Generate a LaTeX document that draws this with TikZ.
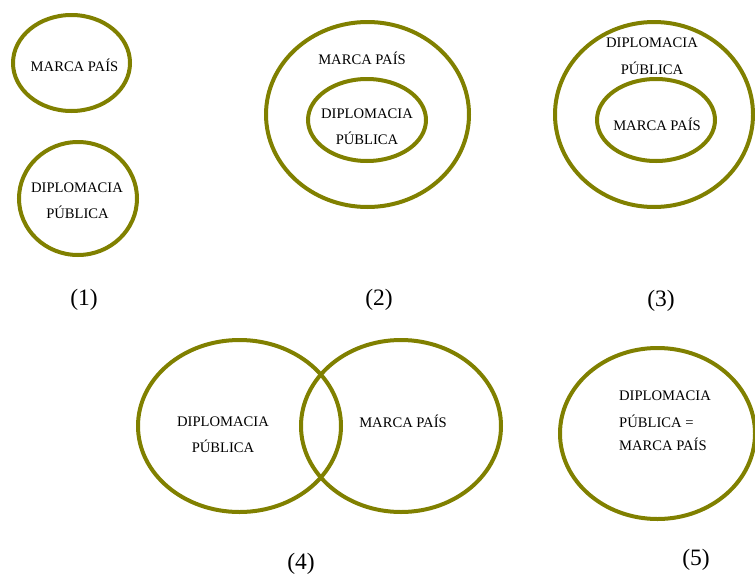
\documentclass[tikz,border=0pt]{standalone}
\usepackage{fontspec}
\setmainfont{Liberation Serif}
\usetikzlibrary{shapes.geometric}
\definecolor{ringolive}{RGB}{128,128,0}
\begin{document}
\begin{tikzpicture}[x=1pt,y=-1pt,
  ring/.style={draw=ringolive, line width=4pt, ellipse, inner sep=0pt, outer sep=0pt},
  txt/.style={anchor=base, inner sep=0pt, font=\fontsize{14.6}{26}\selectfont},
  txtl/.style={txt, anchor=base west},
  lbl/.style={anchor=base, inner sep=0pt, font=\fontsize{23.5}{26}\selectfont}]
\useasboundingbox (0,0) rectangle (755,576);
\clip (0,0) rectangle (755,576);
% (1)
\node[ring, minimum width=117pt, minimum height=96pt] (e1a) at (71.5,63) {};
\node[ring, minimum width=118pt, minimum height=113pt] (e1b) at (78,198.5) {};
\node[txt] (t1a) at (74.5,71) {MARCA PAÍS};
\node[txt] (t1b) at (77,192) {DIPLOMACIA};
\node[txt] (t1c) at (77.5,218) {PÚBLICA};
\node[lbl] (l1) at (84,305) {(1)};
% (2)
\node[ring, minimum width=203pt, minimum height=185pt] (e2o) at (367.5,114.5) {};
\node[ring, minimum width=118pt, minimum height=82pt] (e2i) at (367,120) {};
\node[txt] (t2a) at (362,64) {MARCA PAÍS};
\node[txt] (t2b) at (367,118) {DIPLOMACIA};
\node[txt] (t2c) at (367,144) {PÚBLICA};
\node[lbl] (l2) at (379,305) {(2)};
% (3)
\node[ring, minimum width=198pt, minimum height=185pt] (e3o) at (654,114.5) {};
\node[ring, minimum width=118pt, minimum height=82pt] (e3i) at (656,120) {};
\node[txt] (t3a) at (652,47) {DIPLOMACIA};
\node[txt] (t3b) at (652,74) {PÚBLICA};
\node[txt] (t3c) at (657,130) {MARCA PAÍS};
\node[lbl] (l3) at (661,306) {(3)};
% (4)
\node[ring, minimum width=203pt, minimum height=172pt] (e4a) at (239.5,426) {};
\node[ring, minimum width=200pt, minimum height=172pt] (e4b) at (401,426) {};
\node[txt] (t4a) at (223,426) {DIPLOMACIA};
\node[txt] (t4b) at (223,452) {PÚBLICA};
\node[txt] (t4c) at (403,427) {MARCA PAÍS};
\node[lbl] (l4) at (301,569.5) {(4)};
% (5)
\node[ring, minimum width=195pt, minimum height=171pt] (e5) at (657.5,433.5) {};
\node[txtl] (t5a) at (619,400) {DIPLOMACIA};
\node[txtl] (t5b) at (619,427) {PÚBLICA =};
\node[txtl] (t5c) at (619,450) {MARCA PAÍS};
\node[lbl] (l5) at (696,565) {(5)};
\end{tikzpicture}
\end{document}
